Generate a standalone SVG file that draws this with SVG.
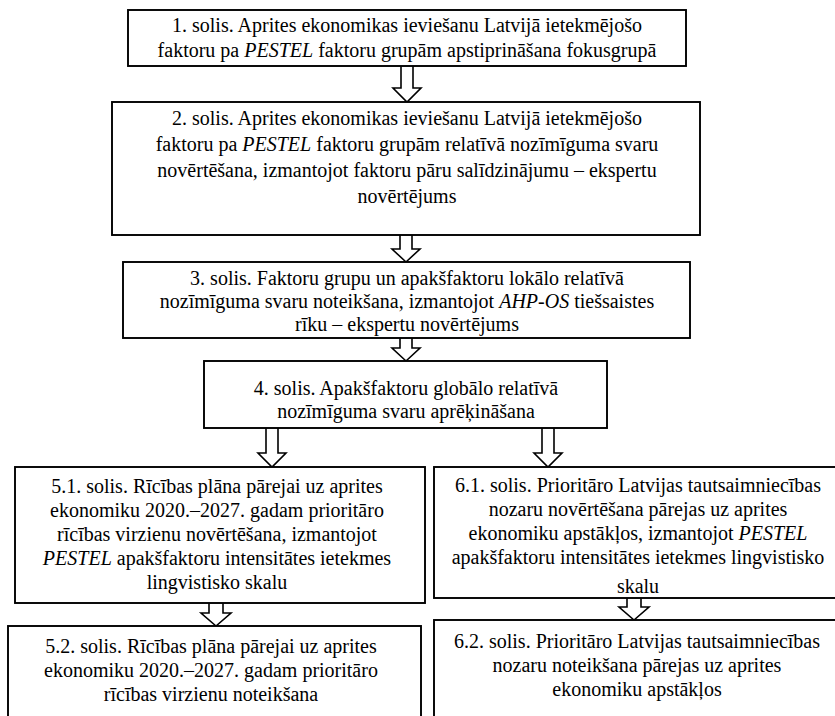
<svg xmlns="http://www.w3.org/2000/svg" width="835" height="716" viewBox="0 0 835 716">
<style>
.box{fill:#fff;stroke:#000;stroke-width:1.9}
.arr{fill:#fff;stroke:#000;stroke-width:1.6;stroke-linejoin:miter}
text{font-family:"Liberation Serif","Times New Roman",serif;font-size:20px;fill:#000;text-anchor:middle}
.i{font-style:italic}
</style>
<rect width="835" height="716" fill="#fff"/>
<g id="connectors">
<path class="arr" d="M401,66 V88 H393 L407,102 L421,88 H413 V66"/>
<path class="arr" d="M400,235 V249 H392 L406,262 L420,249 H412 V235"/>
<path class="arr" d="M400,338 V348 H392 L406,361 L420,348 H412 V338"/>
<path class="arr" d="M266,428 V453 H258 L272,467 L286,453 H278 V428"/>
<path class="arr" d="M542,428 V453 H534 L548,467 L562,453 H554 V428"/>
<path class="arr" d="M209,603 V613 H201 L216,626 L231,613 H223 V603"/>
<path class="arr" d="M627,598 V607 H619 L634,620 L649,607 H641 V598"/>
</g>
<g id="step1">
<rect class="box" x="128" y="10" width="558" height="56"/>
<text x="407" y="32">1. solis. Aprites ekonomikas ieviešanu Latvijā ietekmējošo</text>
<text x="407" y="57">faktoru pa <tspan class="i">PESTEL</tspan> faktoru grupām apstiprināšana fokusgrupā</text>
</g>
<g id="step2">
<rect class="box" x="112" y="102" width="588" height="133"/>
<text x="407" y="125">2. solis. Aprites ekonomikas ieviešanu Latvijā ietekmējošo</text>
<text x="407" y="151">faktoru pa <tspan class="i">PESTEL</tspan> faktoru grupām relatīvā nozīmīguma svaru</text>
<text x="407" y="177">novērtēšana, izmantojot faktoru pāru salīdzinājumu – ekspertu</text>
<text x="407" y="203">novērtējums</text>
</g>
<g id="step3">
<rect class="box" x="123" y="262" width="567" height="76"/>
<text x="407" y="285">3. solis. Faktoru grupu un apakšfaktoru lokālo relatīvā</text>
<text x="407" y="308">nozīmīguma svaru noteikšana, izmantojot <tspan class="i">AHP-OS</tspan> tiešsaistes</text>
<text x="407" y="331">rīku – ekspertu novērtējums</text>
</g>
<g id="step4">
<rect class="box" x="204" y="361" width="403" height="67"/>
<text x="406" y="395">4. solis. Apakšfaktoru globālo relatīvā</text>
<text x="406" y="418">nozīmīguma svaru aprēķināšana</text>
</g>
<g id="step5-1">
<rect class="box" x="15" y="467" width="410" height="136"/>
<text x="217" y="493">5.1. solis. Rīcības plāna pārejai uz aprites</text>
<text x="217" y="517">ekonomiku 2020.–2027. gadam prioritāro</text>
<text x="217" y="541">rīcības virzienu novērtēšana, izmantojot</text>
<text x="217" y="565"><tspan class="i">PESTEL</tspan> apakšfaktoru intensitātes ietekmes</text>
<text x="217" y="589">lingvistisko skalu</text>
</g>
<g id="step5-2">
<rect class="box" x="8" y="626" width="413" height="110"/>
<text x="211" y="653">5.2. solis. Rīcības plāna pārejai uz aprites</text>
<text x="211" y="677">ekonomiku 2020.–2027. gadam prioritāro</text>
<text x="211" y="701">rīcības virzienu noteikšana</text>
</g>
<g id="step6-1">
<rect class="box" x="434" y="467" width="410" height="131"/>
<text x="638" y="492">6.1. solis. Prioritāro Latvijas tautsaimniecības</text>
<text x="638" y="516">nozaru novērtēšana pārejas uz aprites</text>
<text x="638" y="540">ekonomiku apstākļos, izmantojot <tspan class="i">PESTEL</tspan></text>
<text x="638" y="564">apakšfaktoru intensitātes ietekmes lingvistisko</text>
<text x="638" y="593">skalu</text>
</g>
<g id="step6-2">
<rect class="box" x="434" y="620" width="410" height="116"/>
<text x="637" y="648">6.2. solis. Prioritāro Latvijas tautsaimniecības</text>
<text x="637" y="672">nozaru noteikšana pārejas uz aprites</text>
<text x="637" y="696">ekonomiku apstākļos</text>
</g>
</svg>
